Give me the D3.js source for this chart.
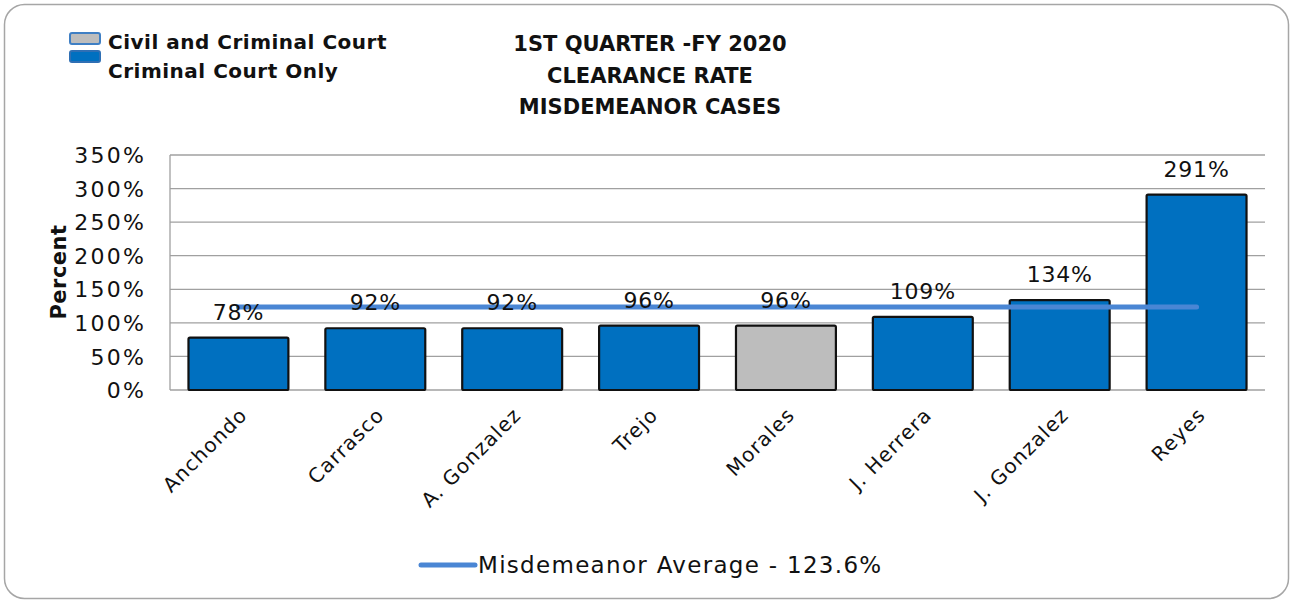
<!DOCTYPE html>
<html><head><meta charset="utf-8">
<script src="https://cdn.jsdelivr.net/npm/d3@7"></script>
<style>body{margin:0;background:#fff}svg{display:block}text{font-family:"DejaVu Sans",sans-serif}</style>
</head><body><svg id="c" width="1293" height="603"></svg>
<script>
const categories = ["Anchondo","Carrasco","A. Gonzalez","Trejo","Morales","J. Herrera","J. Gonzalez","Reyes"];
const values = [78, 92, 92, 96, 96, 109, 134, 291];
const courtType = ["Criminal","Criminal","Criminal","Criminal","Civil","Criminal","Criminal","Criminal"];
const averageValue = 123.6;
const yTicks = [0, 50, 100, 150, 200, 250, 300, 350];
const titleLines = ["1ST QUARTER -FY 2020","CLEARANCE RATE","MISDEMEANOR CASES"];
const legendItems = [{label:"Civil and Criminal Court", type:"Civil"},{label:"Criminal Court Only", type:"Criminal"}];
const avgLabel = "Misdemeanor Average - 123.6%";

const svg = d3.select("#c");
const colors = {Civil:"#BDBDBD", Criminal:"#0070C0"};
svg.append("rect").attr("x",4.5).attr("y",4.5).attr("width",1284).attr("height",594).attr("rx",20)
  .attr("fill","#fff").attr("stroke","#A6A6A6").attr("stroke-width",1.5);

const L=170, R=1265, T=155, B=390;
const x = d3.scaleBand().domain(categories).range([L,R]).paddingInner(0.27).paddingOuter(0.135);
const y = d3.scaleLinear().domain([0,350]).range([B,T]);

// gridlines
svg.append("g").selectAll("line").data(yTicks).join("line")
  .attr("x1",L).attr("x2",R).attr("y1",d=>y(d)).attr("y2",d=>y(d))
  .attr("stroke","#A0A0A0").attr("stroke-width",1.3);
svg.append("line").attr("x1",L).attr("x2",L).attr("y1",T).attr("y2",B).attr("stroke","#A0A0A0").attr("stroke-width",1.3);

// y axis
const yAxis = svg.append("g").attr("transform",`translate(${L-24},0)`)
  .call(d3.axisLeft(y).tickValues(yTicks).tickFormat(d=>d+"%").tickSize(0).tickPadding(0));
yAxis.select(".domain").remove();
yAxis.selectAll("text").attr("font-size",22).attr("letter-spacing",2.2).attr("fill","#111").attr("dy","0.35em");

// x axis
const xAxis = svg.append("g").attr("transform",`translate(0,${B})`)
  .call(d3.axisBottom(x).tickSize(0));
xAxis.select(".domain").remove();
xAxis.selectAll("text").attr("font-size",20).attr("letter-spacing",1.2).attr("fill","#111")
  .attr("text-anchor","end").attr("dy","0").attr("dx","0")
  .attr("transform","translate(8,24) rotate(-45)");

// bars
svg.append("g").selectAll("rect").data(categories).join("rect")
  .attr("x",d=>x(d)).attr("width",x.bandwidth())
  .attr("y",(d,i)=>y(values[i])).attr("height",(d,i)=>B-y(values[i]))
  .attr("fill",(d,i)=>colors[courtType[i]]).attr("stroke","#111").attr("stroke-width",2.2).attr("rx",1.5);

// average line
const avgLine = d3.line().x(d=>x(d)+x.bandwidth()/2).y(()=>y(averageValue));
svg.append("path").datum([categories[0], categories[categories.length-1]]).attr("d",avgLine)
  .attr("stroke","#4A86D4").attr("stroke-width",5).attr("fill","none").attr("stroke-linecap","round");

// value labels
svg.append("g").selectAll("text").data(categories).join("text")
  .attr("x",d=>x(d)+x.bandwidth()/2).attr("y",(d,i)=>y(values[i])-18)
  .attr("text-anchor","middle").attr("font-size",22).attr("letter-spacing",0.8).attr("fill","#111")
  .text((d,i)=>values[i]+"%");

// title
svg.append("g").selectAll("text").data(titleLines).join("text")
  .attr("x",650).attr("y",(d,i)=>51+i*31.5).attr("text-anchor","middle")
  .attr("font-size",21).attr("font-weight","bold").attr("fill","#111").text(d=>d);

// y title
svg.append("text").attr("transform","translate(66,272) rotate(-90)").attr("text-anchor","middle")
  .attr("font-size",21).attr("font-weight","bold").attr("letter-spacing",0.5).attr("fill","#111").text("Percent");

// top legend
const lg = svg.append("g").selectAll("g").data(legendItems).join("g");
lg.append("rect").attr("x",70).attr("y",(d,i)=>33+i*18).attr("width",30).attr("height",11).attr("rx",2)
  .attr("fill",d=>colors[d.type]).attr("stroke",d=>d.type==="Civil"?"#3F7FC4":"#2F6FB4").attr("stroke-width",2);
lg.append("text").attr("x",108).attr("y",(d,i)=>49+i*29).attr("font-size",20).attr("font-weight","bold")
  .attr("letter-spacing",0.5).attr("fill","#111").text(d=>d.label);

// bottom legend
svg.append("line").attr("x1",421).attr("x2",475).attr("y1",565).attr("y2",565)
  .attr("stroke","#4A86D4").attr("stroke-width",5).attr("stroke-linecap","round");
svg.append("text").attr("x",478).attr("y",573).attr("font-size",23).attr("letter-spacing",1.3).attr("fill","#111").text(avgLabel);
</script></body></html>
